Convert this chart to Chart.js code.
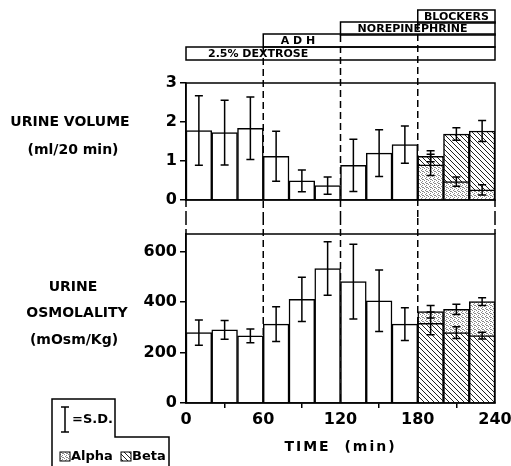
<!DOCTYPE html>
<html>
<head>
<meta charset="utf-8">
<script src="https://cdn.jsdelivr.net/npm/chart.js@4.4.1/dist/chart.umd.min.js"></script>
<style>
  html, body { margin: 0; padding: 0; background: #fff; }
  #wrap { position: relative; width: 511px; height: 466px; }
  canvas { position: absolute; left: 0; }
  #volChart { top: 0; }
  #osmChart { top: 218px; }
</style>
</head>
<body>
<div id="wrap">
  <canvas id="volChart" width="511" height="218"></canvas>
  <canvas id="osmChart" width="511" height="248"></canvas>
</div>
<script>
// 20-min collection periods (mid-points, min)
const periods = [10, 30, 50, 70, 90, 110, 130, 150, 170];
const blockerPeriods = [190, 210, 230];
const timeTicks = [0, 60, 120, 180, 240];
const volTicks = [0, 1, 2, 3];
const osmTicks = [0, 200, 400, 600];

// urine volume (ml/20 min) and S.D.
const volControl = [1.78, 1.73, 1.84, 1.12, 0.49, 0.37, 0.89, 1.2, 1.42];
const volControlSD = [0.89, 0.83, 0.8, 0.64, 0.28, 0.22, 0.67, 0.6, 0.48];
const volAlpha = [0.9, 0.47, 0.26];
const volAlphaSD = [0.27, 0.12, 0.13];
const volBeta = [1.12, 1.69, 1.77];
const volBetaSD = [0.14, 0.16, 0.27];

// urine osmolality (mOsm/Kg) and S.D.
const osmControl = [279, 290, 266, 313, 411, 533, 481, 405, 313];
const osmControlSD = [50, 37, 27, 69, 88, 106, 148, 122, 65];
const osmAlpha = [362, 371, 402];
const osmAlphaSD = [25, 20, 15];
const osmBeta = [316, 279, 267];
const osmBetaSD = [45, 23, 13];

// infusions shown above the chart
const treatments = ["2.5% DEXTROSE", "A D H", "NOREPINEPHRINE", "BLOCKERS"];
const treatmentStart = [0, 60, 120, 180];
const treatmentEnd = 240;
const treatmentLabelAt = [56, 87, 176, 210];

const FONT = "'DejaVu Sans', sans-serif";
Chart.defaults.font.family = FONT;
Chart.defaults.color = "#000";
Chart.defaults.animation = false;

function makeStipple() {
  const c = document.createElement("canvas");
  c.width = 4; c.height = 4;
  const g = c.getContext("2d");
  g.fillStyle = "#fff";
  g.fillRect(0, 0, 4, 4);
  g.fillStyle = "#8a8a8a";
  [[0, 0], [2, 1], [1, 2], [3, 3], [2, 3]].forEach(p => g.fillRect(p[0], p[1], 1, 1));
  return g.createPattern(c, "repeat");
}

function makeHatch() {
  const s = 5;
  const c = document.createElement("canvas");
  c.width = s; c.height = s;
  const g = c.getContext("2d");
  g.fillStyle = "#fff";
  g.fillRect(0, 0, s, s);
  g.strokeStyle = "#222";
  g.lineWidth = 1;
  g.beginPath();
  g.moveTo(0, 0); g.lineTo(s, s);
  g.moveTo(-1, s - 1); g.lineTo(1, s + 1);
  g.moveTo(s - 1, -1); g.lineTo(s + 1, 1);
  g.stroke();
  return g.createPattern(c, "repeat");
}

const stipple = makeStipple();
const hatch = makeHatch();

function barSet(label, xs, ys, sd, fill, order) {
  return {
    label: label,
    data: xs.map((x, i) => ({ x: x, y: ys[i] })),
    sd: sd,
    backgroundColor: fill,
    borderColor: "#000",
    borderWidth: 1.5,
    grouped: false,
    barPercentage: 1,
    categoryPercentage: 1,
    order: order,
  };
}

function text(ctx, str, x, y, font, align) {
  ctx.font = font;
  ctx.textAlign = align || "center";
  ctx.textBaseline = "middle";
  ctx.fillStyle = "#000";
  ctx.fillText(str, x, y);
}

function dashed(ctx, x, y1, y2) {
  ctx.save();
  ctx.strokeStyle = "#000";
  ctx.lineWidth = 1.5;
  ctx.setLineDash([7, 4]);
  ctx.beginPath();
  ctx.moveTo(x, y1);
  ctx.lineTo(x, y2);
  ctx.stroke();
  ctx.restore();
}

// S.D. bars and panel frame
const errorBars = {
  id: "errorBars",
  afterDatasetsDraw(chart) {
    const ctx = chart.ctx, y = chart.scales.y;
    ctx.save();
    ctx.strokeStyle = "#000";
    ctx.lineWidth = 1.5;
    chart.data.datasets.forEach((ds, di) => {
      chart.getDatasetMeta(di).data.forEach((bar, i) => {
        const v = ds.data[i].y, s = ds.sd[i];
        const top = y.getPixelForValue(v + s), bot = y.getPixelForValue(v - s);
        ctx.beginPath();
        ctx.moveTo(bar.x, top); ctx.lineTo(bar.x, bot);
        ctx.moveTo(bar.x - 4, top); ctx.lineTo(bar.x + 4, top);
        ctx.moveTo(bar.x - 4, bot); ctx.lineTo(bar.x + 4, bot);
        ctx.stroke();
      });
    });
    const a = chart.chartArea;
    ctx.strokeRect(a.left, a.top, a.right - a.left, a.bottom - a.top);
    ctx.restore();
  }
};

function xAxis(showLabels, height) {
  return {
    type: "linear",
    min: 0,
    max: 240,
    offset: false,
    afterBuildTicks: s => { s.ticks = timeTicks.map(v => ({ value: v })); },
    afterFit: s => { s.height = height; s.paddingLeft = 0; s.paddingRight = 0; },
    ticks: { display: showLabels, font: { size: 16, weight: "bold" }, padding: 2 },
    grid: { display: showLabels, drawOnChartArea: false, tickLength: 5, color: "#000", lineWidth: 1.5 },
    border: { display: true, color: "#000", width: 1.5 },
  };
}

function yAxis(max, tickValues) {
  return {
    min: 0,
    max: max,
    afterBuildTicks: s => { s.ticks = tickValues.map(v => ({ value: v })); },
    afterFit: s => { s.width = 186; },
    ticks: { font: { size: 16, weight: "bold" }, padding: 3 },
    grid: { drawOnChartArea: false, tickLength: 6, color: "#000", lineWidth: 1.5 },
    border: { color: "#000", width: 1.5 },
  };
}

// ---- urine volume ----
new Chart(document.getElementById("volChart"), {
  type: "bar",
  data: {
    datasets: [
      barSet("Control", periods, volControl, volControlSD, "#fff", 3),
      barSet("Beta", blockerPeriods, volBeta, volBetaSD, hatch, 2),
      barSet("Alpha", blockerPeriods, volAlpha, volAlphaSD, stipple, 1),
    ],
  },
  options: {
    responsive: false,
    layout: { padding: { top: 83, right: 16, left: 0, bottom: 0 } },
    plugins: { legend: { display: false }, tooltip: { enabled: false } },
    scales: { x: xAxis(false, 18), y: yAxis(3, volTicks) },
  },
  plugins: [errorBars, {
    id: "volDecor",
    beforeDatasetsDraw(chart) {
      const ctx = chart.ctx, x = chart.scales.x;
      const boxTop = [47, 34, 22, 10];
      treatmentStart.forEach((t, i) => {
        if (t > 0) dashed(ctx, x.getPixelForValue(t), boxTop[i] + 13, chart.height);
      });
      dashed(ctx, x.getPixelForValue(0), chart.chartArea.bottom, chart.height);
      dashed(ctx, x.getPixelForValue(240), chart.chartArea.bottom, chart.height);
    },
    afterDraw(chart) {
      const ctx = chart.ctx, x = chart.scales.x;
      const boxTop = [47, 34, 22, 10];
      ctx.save();
      ctx.strokeStyle = "#000";
      ctx.lineWidth = 1.5;
      treatments.forEach((name, i) => {
        const x0 = x.getPixelForValue(treatmentStart[i]);
        const x1 = x.getPixelForValue(treatmentEnd);
        ctx.strokeRect(x0, boxTop[i], x1 - x0, 13);
        text(ctx, name, x.getPixelForValue(treatmentLabelAt[i]), boxTop[i] + 7, "bold 11px " + FONT);
      });
      ctx.restore();
      text(ctx, "URINE VOLUME", 70, 122, "bold 14px " + FONT);
      text(ctx, "(ml/20 min)", 73, 150, "bold 14px " + FONT);
    },
  }],
});

// ---- urine osmolality ----
new Chart(document.getElementById("osmChart"), {
  type: "bar",
  data: {
    datasets: [
      barSet("Control", periods, osmControl, osmControlSD, "#fff", 3),
      barSet("Alpha", blockerPeriods, osmAlpha, osmAlphaSD, stipple, 2),
      barSet("Beta", blockerPeriods, osmBeta, osmBetaSD, hatch, 1),
    ],
  },
  options: {
    responsive: false,
    layout: { padding: { top: 16, right: 16, left: 0, bottom: 0 } },
    plugins: { legend: { display: false }, tooltip: { enabled: false } },
    scales: { x: xAxis(true, 63), y: yAxis(670, osmTicks) },
  },
  plugins: [errorBars, {
    id: "osmDecor",
    beforeDatasetsDraw(chart) {
      const ctx = chart.ctx, x = chart.scales.x, a = chart.chartArea;
      timeTicks.forEach(t => {
        const bottom = (t > 0 && t < 240) ? a.bottom : a.top;
        dashed(ctx, x.getPixelForValue(t), 0, bottom);
      });
    },
    afterDraw(chart) {
      const ctx = chart.ctx, x = chart.scales.x;
      text(ctx, "URINE", 73, 69, "bold 14px " + FONT);
      text(ctx, "OSMOLALITY", 77, 95, "bold 14px " + FONT);
      text(ctx, "(mOsm/Kg)", 74, 122, "bold 14px " + FONT);

      ctx.save();
      ctx.letterSpacing = "2px";
      text(ctx, "TIME  (min)", x.getPixelForValue(120), 229, "bold 14px " + FONT);
      ctx.restore();

      // legend box
      ctx.save();
      ctx.strokeStyle = "#000";
      ctx.lineWidth = 1.5;
      ctx.beginPath();
      ctx.moveTo(52, 248);
      ctx.lineTo(52, 181);
      ctx.lineTo(115, 181);
      ctx.lineTo(115, 219);
      ctx.lineTo(169, 219);
      ctx.lineTo(169, 248);
      ctx.stroke();
      ctx.beginPath();
      ctx.moveTo(65, 189); ctx.lineTo(65, 214);
      ctx.moveTo(61, 189); ctx.lineTo(69, 189);
      ctx.moveTo(61, 214); ctx.lineTo(69, 214);
      ctx.stroke();
      text(ctx, "=S.D.", 72, 202, "bold 13px " + FONT, "left");

      ctx.lineWidth = 1;
      ctx.fillStyle = stipple;
      ctx.fillRect(60, 234, 10, 9);
      ctx.strokeRect(60, 234, 10, 9);
      text(ctx, "Alpha", 71, 239, "bold 13px " + FONT, "left");
      ctx.fillStyle = hatch;
      ctx.fillRect(121, 234, 10, 9);
      ctx.strokeRect(121, 234, 10, 9);
      text(ctx, "Beta", 132, 239, "bold 13px " + FONT, "left");
      ctx.restore();
    },
  }],
});
</script>
</body>
</html>
